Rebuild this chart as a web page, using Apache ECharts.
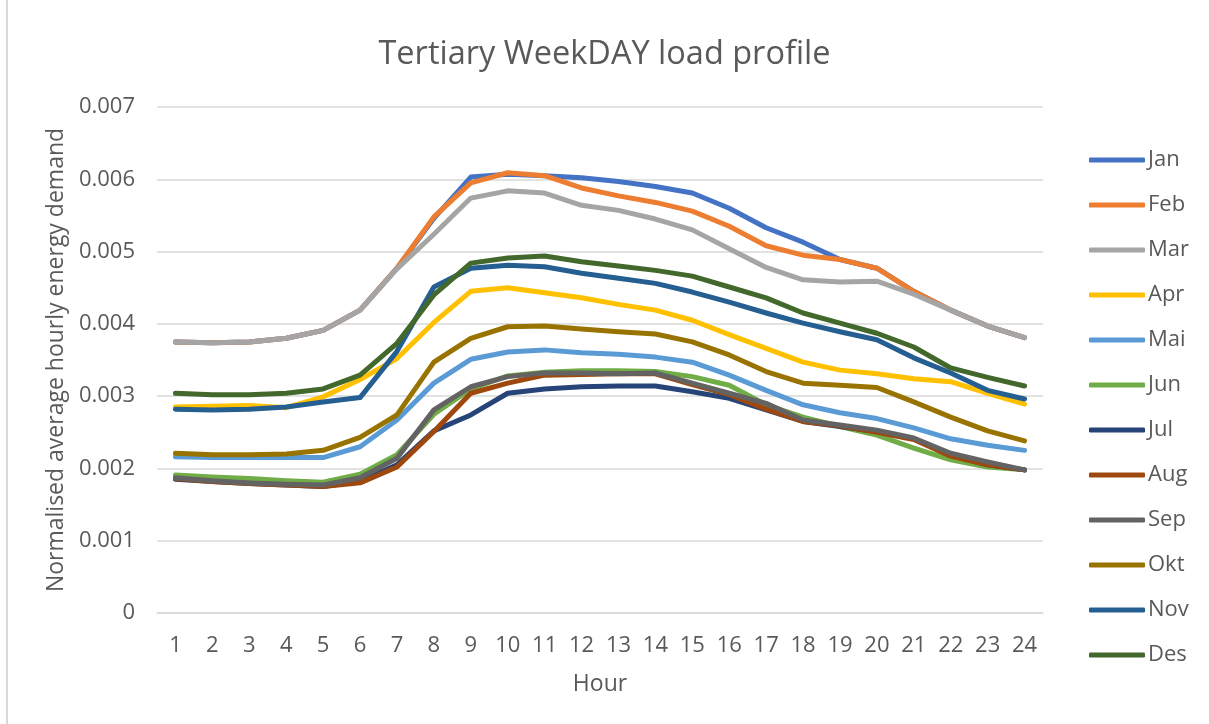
<!DOCTYPE html>
<html>
<head>
<meta charset="utf-8">
<script src="https://cdn.jsdelivr.net/npm/echarts@6/dist/echarts.min.js"></script>
<style>
  html, body { margin: 0; padding: 0; background: #fff; }
  #wrap { position: relative; width: 1209px; height: 724px; overflow: hidden; }
  #chart { width: 1209px; height: 724px; }
  /* chart-area frame edge on the left */
  #frame { position: absolute; left: 6px; top: 0; width: 2px; height: 724px; background: #D9D9D9; }
</style>
</head>
<body>
<div id="wrap">
  <div id="chart"></div>
  <div id="frame"></div>
</div>
<script>
// Hours of the day
const hours = ['1','2','3','4','5','6','7','8','9','10','11','12','13','14','15','16','17','18','19','20','21','22','23','24'];

// Normalised average hourly energy demand per month (weekdays)
const jan = [0.00375,0.00374,0.00375,0.00380,0.00391,0.00419,0.00477,0.00546,0.00603,0.00607,0.00605,0.00602,0.00597,0.00590,0.00581,0.00560,0.00533,0.00513,0.00489,0.00477,0.00445,0.00419,0.00397,0.00381];
const feb = [0.00375,0.00374,0.00375,0.00380,0.00391,0.00419,0.00477,0.00548,0.00595,0.00609,0.00605,0.00588,0.00577,0.00568,0.00556,0.00535,0.00508,0.00495,0.00489,0.00477,0.00445,0.00419,0.00397,0.00381];
const mar = [0.00375,0.00374,0.00375,0.00380,0.00391,0.00419,0.00476,0.00524,0.00574,0.00584,0.00581,0.00564,0.00557,0.00545,0.00530,0.00504,0.00478,0.00461,0.00458,0.00459,0.00441,0.00419,0.00397,0.00381];
const apr = [0.00285,0.00286,0.00287,0.00284,0.00299,0.00323,0.00352,0.00402,0.00445,0.00450,0.00443,0.00436,0.00427,0.00419,0.00405,0.00385,0.00366,0.00347,0.00336,0.00331,0.00324,0.00320,0.00304,0.00289];
const mai = [0.00216,0.00215,0.00215,0.00215,0.00215,0.00230,0.00267,0.00318,0.00351,0.00361,0.00364,0.00360,0.00358,0.00354,0.00347,0.00329,0.00308,0.00288,0.00277,0.00269,0.00256,0.00241,0.00232,0.00225];
const jun = [0.00191,0.00188,0.00186,0.00183,0.00181,0.00192,0.00219,0.00275,0.00310,0.00328,0.00333,0.00335,0.00335,0.00334,0.00327,0.00315,0.00288,0.00271,0.00258,0.00246,0.00228,0.00212,0.00202,0.00198];
const jul = [0.00185,0.00182,0.00179,0.00177,0.00175,0.00182,0.00205,0.00252,0.00274,0.00304,0.00310,0.00313,0.00314,0.00314,0.00306,0.00297,0.00281,0.00265,0.00258,0.00251,0.00241,0.00218,0.00205,0.00198];
const aug = [0.00186,0.00182,0.00179,0.00177,0.00175,0.00180,0.00202,0.00251,0.00304,0.00318,0.00329,0.00330,0.00331,0.00331,0.00316,0.00302,0.00282,0.00265,0.00259,0.00250,0.00240,0.00217,0.00205,0.00198];
const sep = [0.00187,0.00183,0.00180,0.00178,0.00177,0.00187,0.00214,0.00281,0.00313,0.00327,0.00332,0.00332,0.00331,0.00332,0.00318,0.00304,0.00290,0.00267,0.00260,0.00253,0.00242,0.00221,0.00209,0.00198];
const okt = [0.00221,0.00219,0.00219,0.00220,0.00225,0.00243,0.00274,0.00347,0.00380,0.00396,0.00397,0.00393,0.00389,0.00386,0.00375,0.00357,0.00334,0.00318,0.00315,0.00312,0.00292,0.00271,0.00252,0.00238];
const nov = [0.00282,0.00281,0.00282,0.00285,0.00292,0.00298,0.00362,0.00451,0.00477,0.00481,0.00479,0.00470,0.00463,0.00456,0.00444,0.00430,0.00415,0.00401,0.00389,0.00378,0.00353,0.00332,0.00308,0.00296];
const des = [0.00304,0.00302,0.00302,0.00304,0.00310,0.00329,0.00373,0.00440,0.00484,0.00491,0.00494,0.00486,0.00480,0.00474,0.00466,0.00451,0.00436,0.00415,0.00401,0.00387,0.00368,0.00339,0.00326,0.00314];

const monthNames = ['Jan','Feb','Mar','Apr','Mai','Jun','Jul','Aug','Sep','Okt','Nov','Des'];
const monthValues = [jan, feb, mar, apr, mai, jun, jul, aug, sep, okt, nov, des];
const monthColors = ['#4472C4','#ED7D31','#A5A5A5','#FFC000','#5B9BD5','#70AD47',
                     '#264478','#9E480E','#636363','#997300','#255E91','#43682B'];

const textColor = '#595959';
const font = '"Open Sans", "Noto Sans", sans-serif';

const chart = echarts.init(document.getElementById('chart'), null, { renderer: 'canvas' });

const series = monthNames.map((name, i) => ({
  name: name,
  type: 'line',
  data: monthValues[i],
  symbol: 'none',
  showSymbol: false,
  smooth: false,
  color: monthColors[i],
  lineStyle: { width: 5, color: monthColors[i], cap: 'round', join: 'round' },
  z: 2 + i
}));

chart.setOption({
  backgroundColor: '#ffffff',
  animation: false,
  textStyle: { fontFamily: font, color: textColor },
  title: {
    text: 'Tertiary WeekDAY load profile',
    left: 'center',
    top: 33,
    textStyle: { fontSize: 32.5, fontWeight: 'normal', color: textColor, fontFamily: font }
  },
  legend: {
    orient: 'vertical',
    left: 1084,
    top: 144,
    icon: 'roundRect',
    itemWidth: 56,
    itemHeight: 5,
    itemGap: 23,
    textStyle: { fontSize: 22, color: textColor, fontFamily: font, padding: [0, 0, 0, -2] },
    data: monthNames
  },
  grid: {
    left: 157,
    right: 1209 - 1043,
    top: 107,
    bottom: 724 - 613,
    containLabel: false
  },
  xAxis: {
    type: 'category',
    data: hours,
    boundaryGap: true,
    name: 'Hour',
    nameLocation: 'middle',
    nameGap: 60,
    nameTextStyle: { fontSize: 23, color: textColor, fontFamily: font },
    axisLine: { show: true, lineStyle: { color: '#D9D9D9', width: 1.5 } },
    axisTick: { show: false },
    axisLabel: { fontSize: 22, color: textColor, margin: 22, fontFamily: font },
    splitLine: { show: false }
  },
  yAxis: {
    type: 'value',
    min: 0,
    max: 0.007,
    interval: 0.001,
    name: 'Normalised average hourly energy demand',
    nameLocation: 'middle',
    nameGap: 85,
    nameTextStyle: { fontSize: 23, color: textColor, fontFamily: font },
    axisLine: { show: false },
    axisTick: { show: false },
    axisLabel: {
      fontSize: 22, color: textColor, margin: 22, fontFamily: font,
      formatter: v => (v === 0 ? '0' : v.toFixed(3))
    },
    splitLine: { show: true, lineStyle: { color: '#D9D9D9', width: 1.5 } }
  },
  series: series
});
</script>
</body>
</html>
